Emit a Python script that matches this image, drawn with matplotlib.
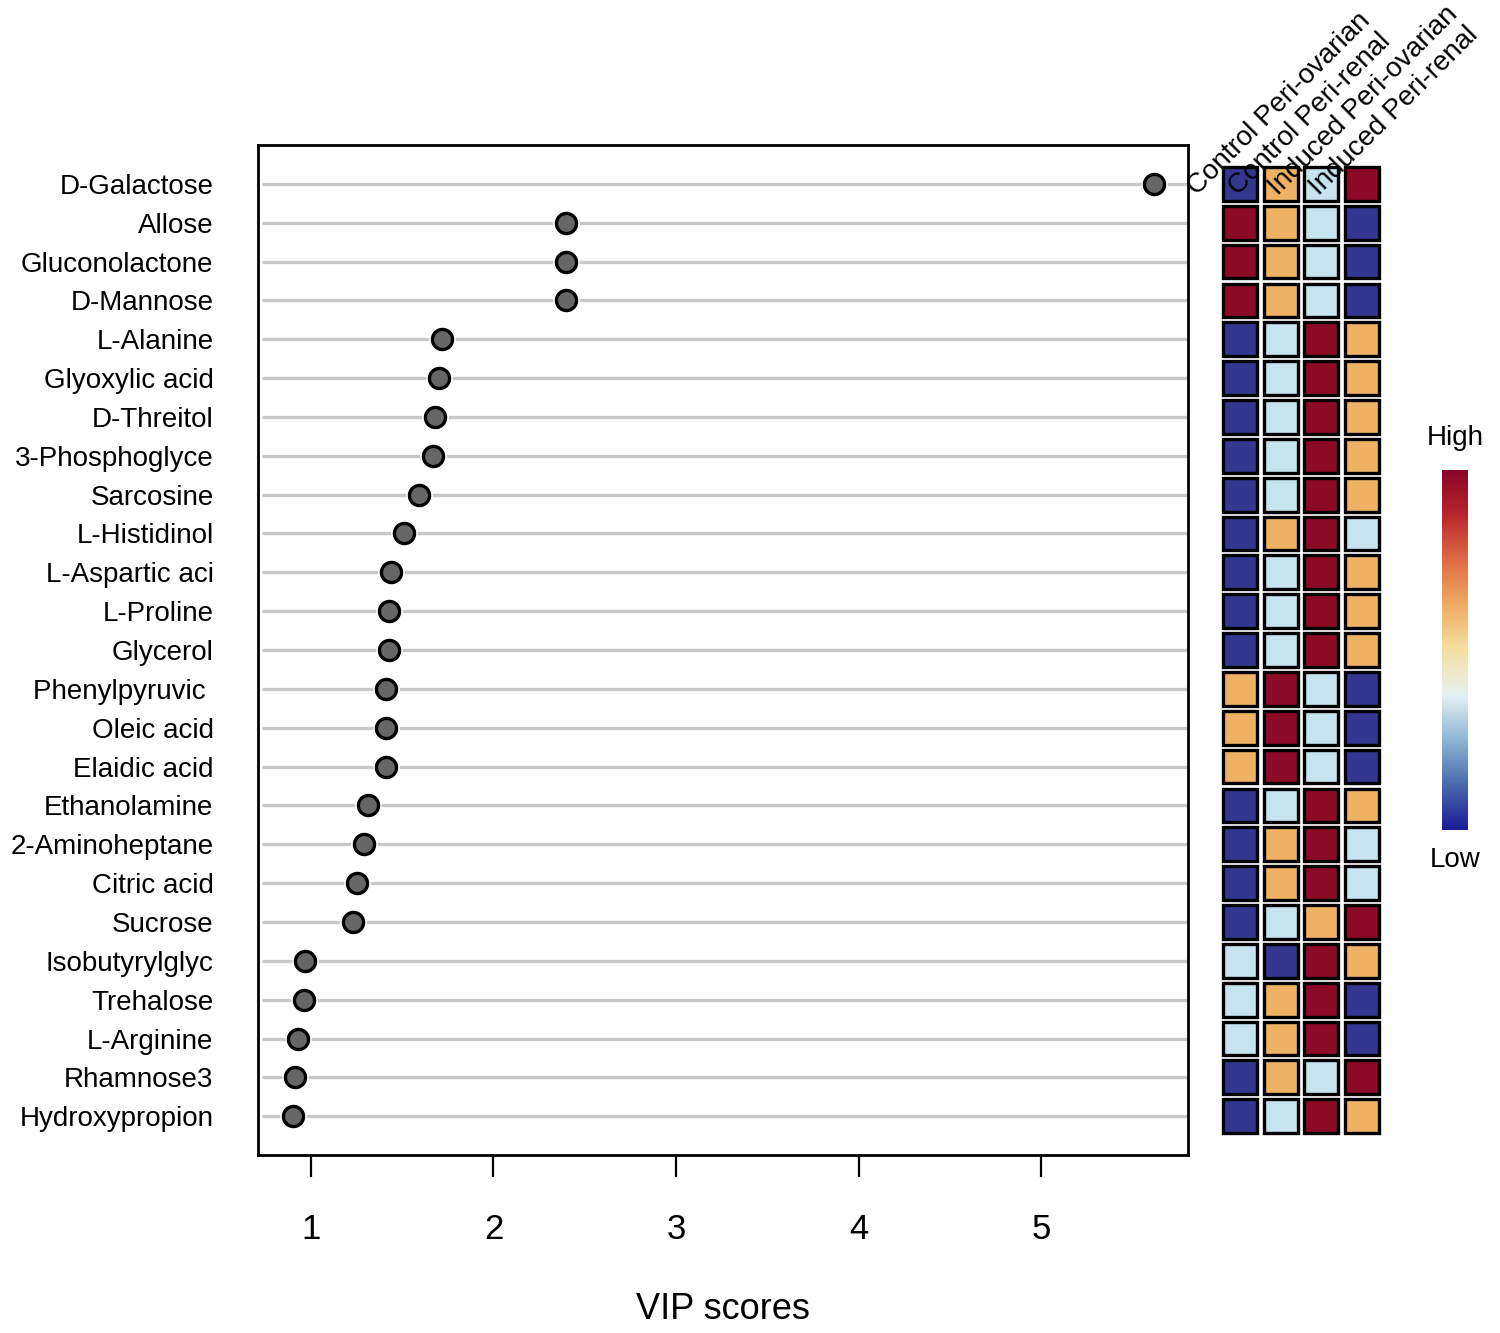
import matplotlib
matplotlib.use("Agg")
import matplotlib.pyplot as plt
import numpy as np
from matplotlib.colors import LinearSegmentedColormap
from matplotlib.patches import Rectangle

plt.rcParams['font.family'] = ['Liberation Sans', 'DejaVu Sans']

# metabolites, top to bottom
metabolites = ['D-Galactose', 'Allose', 'Gluconolactone', 'D-Mannose', 'L-Alanine',
               'Glyoxylic acid', 'D-Threitol', '3-Phosphoglyce', 'Sarcosine',
               'L-Histidinol', 'L-Aspartic aci', 'L-Proline', 'Glycerol',
               'Phenylpyruvic ', 'Oleic acid', 'Elaidic acid', 'Ethanolamine',
               '2-Aminoheptane', 'Citric acid', 'Sucrose', 'Isobutyrylglyc',
               'Trehalose', 'L-Arginine', 'Rhamnose3', 'Hydroxypropion']
vip = [5.62, 2.40, 2.40, 2.40, 1.72, 1.70, 1.68, 1.67, 1.59, 1.51, 1.44, 1.43,
       1.43, 1.41, 1.41, 1.41, 1.31, 1.29, 1.25, 1.23, 0.97, 0.96, 0.93, 0.91, 0.90]

groups = ['Control Peri-ovarian', 'Control Peri-renal',
          'Induced Peri-ovarian', 'Induced Peri-renal']
# relative level per group (1 = lowest, 4 = highest)
levels = [[1, 3, 2, 4], [4, 3, 2, 1], [4, 3, 2, 1], [4, 3, 2, 1], [1, 2, 4, 3],
          [1, 2, 4, 3], [1, 2, 4, 3], [1, 2, 4, 3], [1, 2, 4, 3], [1, 3, 4, 2],
          [1, 2, 4, 3], [1, 2, 4, 3], [1, 2, 4, 3], [3, 4, 2, 1], [3, 4, 2, 1],
          [3, 4, 2, 1], [1, 2, 4, 3], [1, 3, 4, 2], [1, 3, 4, 2], [1, 2, 3, 4],
          [2, 1, 4, 3], [2, 3, 4, 1], [2, 3, 4, 1], [1, 3, 2, 4], [1, 2, 4, 3]]

level_colors = {1: '#33378f', 2: '#c6e3ef', 3: '#efb265', 4: '#8c0a28'}
cmap = LinearSegmentedColormap.from_list(
    'hl', ['#1c1c96', '#4a6aae', '#8fb7d5', '#e6f1f3', '#f5e0a0',
           '#efac62', '#e06a45', '#b8262c', '#880428'])

n = len(metabolites)
ypos = np.arange(n, 0, -1)

fig = plt.figure(figsize=(15, 13.33), dpi=100)
ax = fig.add_axes([0.172, 0.1335, 0.62, 0.7577])

ax.hlines(ypos, 0.73, 5.8, color='#c8c8c8', lw=2.4, zorder=1)
ax.scatter(vip, ypos, s=330, color='white', zorder=2)
ax.scatter(vip, ypos, s=210, color='#666666', edgecolor='black', lw=2.4, zorder=3)

ax.set_xlim(0.71, 5.805)
ax.set_ylim(0.0, 26.0)
ax.set_yticks(ypos)
ax.set_yticklabels(metabolites, fontsize=20)
ax.tick_params(axis='y', length=0, pad=32)
ax.set_xticks([1, 2, 3, 4, 5])
ax.tick_params(axis='x', length=16, width=1.6, pad=26, labelsize=25)
ax.set_xlabel('VIP scores', fontsize=26, labelpad=33)
for s in ax.spines.values():
    s.set_linewidth(2)

# heatmap of group levels
axh = fig.add_axes([1219.6 / 1500, 0.1335, 162.8 / 1500, 0.7577])
axh.set_xlim(0.5, 4.5)
axh.set_ylim(0.0, 26.0)
axh.axis('off')
cw, ch = 0.84, 0.87
for r in range(n):
    for c in range(4):
        axh.add_patch(Rectangle((c + 1 - cw / 2, ypos[r] - ch / 2), cw, ch,
                                facecolor=level_colors[levels[r][c]],
                                edgecolor='black', lw=2.4))
for c, g in enumerate(groups):
    axh.text(c + 1 - 1.06, 24.69, g, rotation=45, rotation_mode='anchor',
             ha='left', va='baseline', fontsize=20, clip_on=False)

# colour key
axc = fig.add_axes([1442 / 1500, 1 - 830 / 1333, 26 / 1500, 360 / 1333])
grad = np.linspace(0, 1, 256).reshape(-1, 1)
axc.imshow(grad, aspect='auto', cmap=cmap, origin='lower')
axc.axis('off')
fig.text(1455 / 1500, 1 - 438 / 1333, 'High', ha='center', va='center', fontsize=20)
fig.text(1455 / 1500, 1 - 860 / 1333, 'Low', ha='center', va='center', fontsize=20)

fig.savefig('out.png', dpi=100)
